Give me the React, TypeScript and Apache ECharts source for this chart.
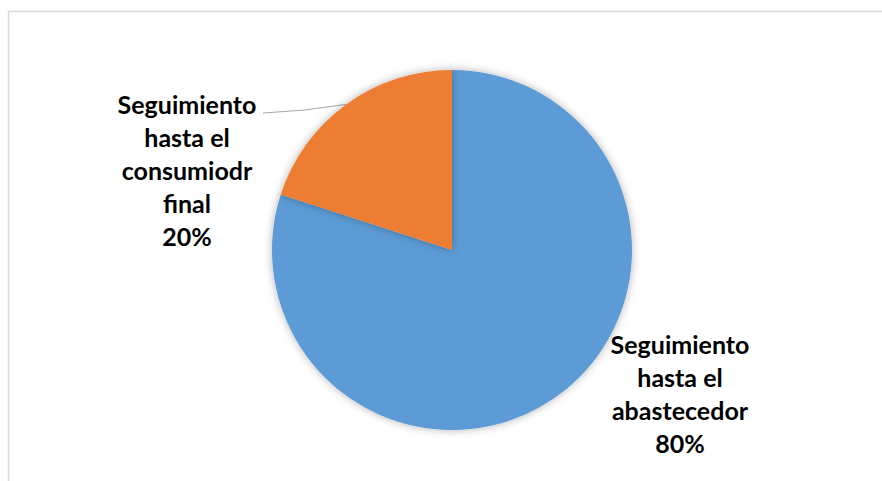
import React, { useEffect, useRef } from "react";
import * as echarts from "echarts";

const categories = ["Seguimiento\nhasta el\nabastecedor", "Seguimiento\nhasta el\nconsumiodr\nfinal"];
const values = [80, 20];
const colors = ["#5B9BD5", "#ED7D31"];

export default function App() {
  const ref = useRef<HTMLDivElement>(null);
  useEffect(() => {
    document.body.style.margin = "0";
    const chart = echarts.init(ref.current!, null, { renderer: "svg" });
    const labelPos = [
      { x: 680, y: 393 },
      { x: 187, y: 170 },
    ];
    chart.setOption({
      animation: false,
      backgroundColor: "#ffffff",
      graphic: [
        {
          type: "rect",
          shape: { x: 8.5, y: 11.5, width: 900, height: 500 },
          style: { fill: "none", stroke: "#d9d9d9", lineWidth: 1.5 },
          silent: true,
        },
      ],
      series: [
        {
          type: "pie",
          center: [452, 250],
          radius: 180,
          startAngle: 90,
          clockwise: true,
          data: categories.map((name, i) => ({
            name,
            value: values[i],
            itemStyle: { color: colors[i] },
          })),
          itemStyle: {
            borderWidth: 0,
            shadowBlur: 8,
            shadowColor: "rgba(0,0,0,0.3)",
          },
          label: {
            show: true,
            position: "outside",
            formatter: (p: any) => `${p.name}\n${p.percent.toFixed(0)}%`,
            fontFamily: "Lato",
            fontWeight: "bold",
            fontSize: 25,
            lineHeight: 33,
            color: "#000000",
            align: "center",
          },
          labelLine: {
            show: true,
            lineStyle: { color: "#a6a6a6", width: 1 },
          },
          labelLayout: (params: any) => {
            const i = params.dataIndex;
            const p = labelPos[i];
            const res: any = { x: p.x, y: p.y, align: "center", verticalAlign: "middle" };
            if (i === 0) {
              res.labelLinePoints = [[0, 0], [0, 0], [0, 0]];
            } else {
              const pts = params.labelLinePoints;
              const start = pts ? pts[0] : [346, 104];
              res.labelLinePoints = [start, [305, 110], [263, 113]];
            }
            return res;
          },
          emphasis: { disabled: true },
        },
      ],
    });
    return () => chart.dispose();
  }, []);
  return <div ref={ref} style={{ width: 882, height: 481 }} />;
}
